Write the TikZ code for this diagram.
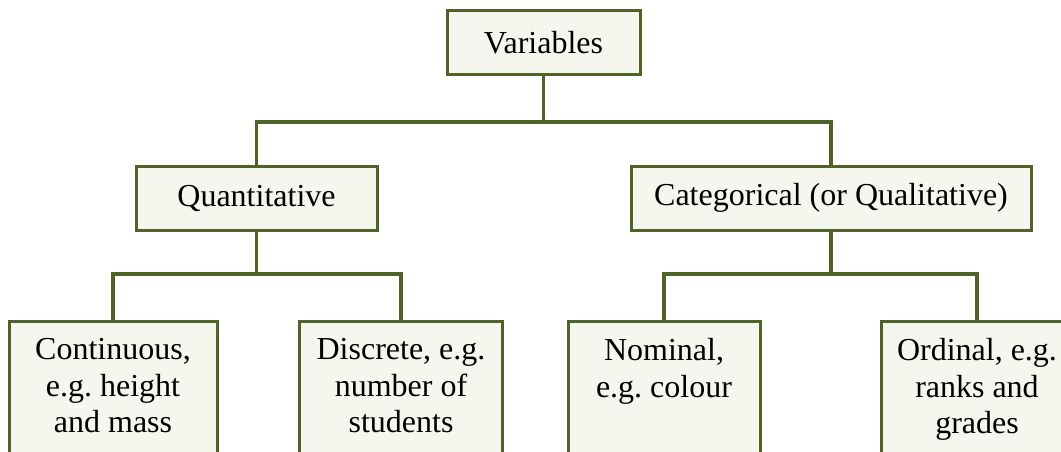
\documentclass[tikz,border=0pt]{standalone}
\usepackage{fontspec}
\setmainfont{Liberation Serif}
\usetikzlibrary{positioning}
\definecolor{olivebox}{HTML}{4F6228}
\definecolor{palebox}{HTML}{F5F7EF}
\frenchspacing

\begin{document}
\begin{tikzpicture}[x=1pt,y=-1pt,
	box/.style={draw=olivebox,fill=palebox,line width=3pt,font=\fontsize{32}{36.5}\selectfont,inner sep=0pt,minimum height=64pt},
	leaf/.style={draw=olivebox,fill=palebox,line width=3pt,font=\fontsize{32}{36.5}\selectfont,anchor=north,inner xsep=0pt,inner ysep=17pt,
		execute at begin node={\begin{minipage}[t][140pt][t]{180pt}\centering},
		execute at end node={\end{minipage}}},
	link/.style={draw=olivebox,line width=3.6pt}]
	\useasboundingbox (0,0) rectangle (1061,452);
	
	\node[box,minimum width=193pt] (var) at (543.5,43) {Variables};
	\node[box,minimum width=241pt] (quant) at (256.5,198) {Quantitative};
	\node[box,minimum width=400pt] (cat) at (831,198) {Categorical (or Qualitative)};
	
	\node[leaf,minimum width=208pt] (cont) at (113,320) {Continuous,\\ e.g. height\\ and mass};
	\node[leaf,minimum width=203pt] (disc) at (401,320) {Discrete, e.g.\\ number of\\ students};
	\node[leaf,minimum width=192pt] (nom) at (664,320) {Nominal,\\ e.g. colour};
	\node[leaf,minimum width=192pt] (ord) at (977,320) {Ordinal, e.g.\\ ranks and\\ grades};
	
	\coordinate (vj) at (543.5,122);
	\coordinate (qj) at (256.5,274);
	\coordinate (cj) at (831,274);
	
	\draw[link] (var.south) -- (vj);
	\draw[link] (quant.north) |- (vj) -| (cat.north);
	\draw[link] (quant.south) -- (qj);
	\draw[link] (cont.north) |- (qj) -| (disc.north);
	\draw[link] (cat.south) -- (cj);
	\draw[link] (nom.north) |- (cj) -| (ord.north);
\end{tikzpicture}
\end{document}
